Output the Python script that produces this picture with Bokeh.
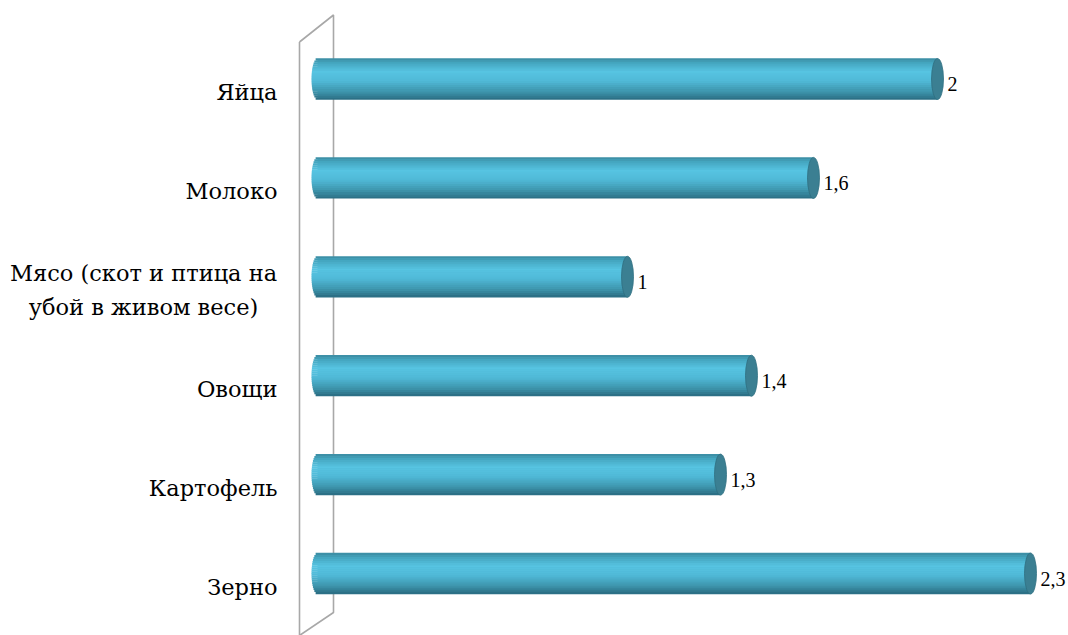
import numpy as np
from bokeh.plotting import figure
from bokeh.models import Range1d, ColumnDataSource, LabelSet
from bokeh.core.properties import value
from bokeh.embed import file_html
from bokeh.resources import INLINE

# ---- data (top to bottom as shown) ----
categories = ["Яйца", "Молоко", "Мясо (скот и птица на\nубой в живом весе)",
              "Овощи", "Картофель", "Зерно"]
values = [2.0, 1.6, 1.0, 1.4, 1.3, 2.3]
value_labels = ["2", "1,6", "1", "1,4", "1,3", "2,3"]

n = len(categories)
ypos = [n - 1 - i for i in range(n)]  # Яйца at top

PX_X = 310.0   # px per unit x
PX_Y = 98.9    # px per unit y
CAT_FONT = value("DejaVu Serif")
VAL_FONT = value("Liberation Serif")

p = figure(width=1068, height=635,
           x_range=Range1d(-317 / PX_X, (1068 - 317) / PX_X),
           y_range=Range1d((573 - 635) / PX_Y, 573 / PX_Y),
           output_backend="svg", toolbar_location=None, min_border=0)
p.min_border_left = p.min_border_right = p.min_border_top = p.min_border_bottom = 0
p.axis.visible = False
p.grid.visible = False
p.outline_line_color = None
p.background_fill_color = "white"
p.border_fill_color = "white"

# ---- 3D wall ----
wx0, wx1 = -18 / PX_X, 16 / PX_X
ytop = max(ypos)
wall_x = [wx0, wx1, wx1, wx0, wx0]
wall_y = [ytop + 37 / PX_Y, ytop + 64 / PX_Y, -39 / PX_Y, -62 / PX_Y, ytop + 37 / PX_Y]
p.line(wall_x, wall_y, line_color="#a8a8a8", line_width=1.6)

# ---- cylinders ----
bar_h = 41 / PX_Y
cap_a = 6 / PX_X
stops = [(0.0, (0x3b, 0x8a, 0xa0)), (0.12, (0x45, 0xa6, 0xc0)),
         (0.32, (0x57, 0xc4, 0xe2)), (0.55, (0x50, 0xb9, 0xd7)),
         (0.8, (0x3e, 0x96, 0xae)), (1.0, (0x2a, 0x6b, 0x80))]


def col_at(t):
    for (t0, c0), (t1, c1) in zip(stops[:-1], stops[1:]):
        if t0 <= t <= t1:
            f = (t - t0) / (t1 - t0) if t1 > t0 else 0
            c = [int(round(a + (b - a) * f)) for a, b in zip(c0, c1)]
            return "#%02x%02x%02x" % tuple(c)
    return "#%02x%02x%02x" % stops[-1][1]


base_src = ColumnDataSource(dict(y=ypos, right=values, left=[0.0] * n))
p.hbar(y="y", left="left", right="right", height=bar_h * 0.96, source=base_src,
       fill_color="#4db3cf", line_color=None)

N = 20
sh = bar_h / N
for k in range(N):
    t = (k + 0.5) / N              # 0 = top, 1 = bottom
    u = 1 - 2 * t                  # +1 top, -1 bottom
    left = -cap_a * np.sqrt(max(0.0, 1 - u * u))
    c = col_at(t)
    src = ColumnDataSource(dict(y=[yy + u * bar_h / 2 for yy in ypos],
                                right=values, left=[left] * n))
    p.hbar(y="y", left="left", right="right", height=sh * 1.15, source=src,
           fill_color=c, line_color=None)

cap_src = ColumnDataSource(dict(x=values, y=ypos))
p.ellipse(x="x", y="y", width=2 * cap_a, height=bar_h, source=cap_src,
          fill_color="#3b7f92", line_color="#2f6e80", line_width=0.8)

# ---- category labels (multi-line labels centred within their block) ----
cat_x = [(143 - 317) / PX_X if "\n" in c else -40 / PX_X for c in categories]
cat_align = ["center" if "\n" in c else "right" for c in categories]
cat_src = ColumnDataSource(dict(x=cat_x, y=ypos, t=categories, al=cat_align))
p.text(x="x", y="y", text="t", source=cat_src, text_align="al",
       text_baseline="middle", y_offset=13, text_font=CAT_FONT,
       text_font_size="22.5px", text_color="#000000", text_line_height=1.3)

# ---- value labels ----
lab_src = ColumnDataSource(dict(x=values, y=ypos, t=value_labels))
labels = LabelSet(x="x", y="y", text="t", source=lab_src, x_offset=10, y_offset=-5,
                  text_align="left", text_baseline="middle",
                  text_font=VAL_FONT, text_font_size="20px",
                  text_color="#000000")
p.add_layout(labels)

open("out.html", "w").write(file_html(p, INLINE))
